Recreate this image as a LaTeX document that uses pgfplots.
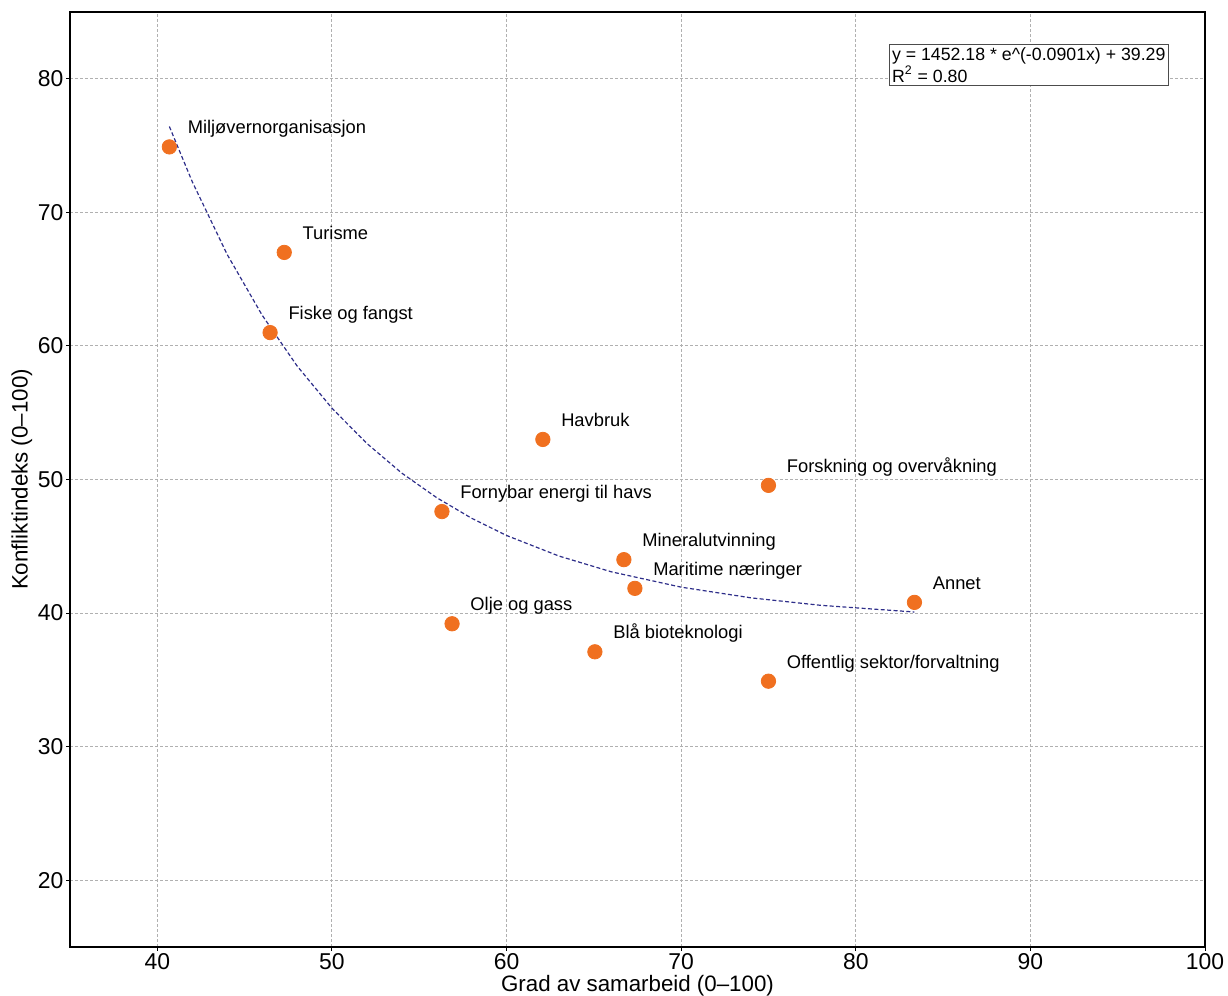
\documentclass[border=0pt]{standalone}
\usepackage{pgfplots}
\pgfplotsset{compat=1.18}
\usepackage{fontspec}
\setmainfont{Liberation Sans}
\definecolor{dotorange}{HTML}{F07020}
\definecolor{fitnavy}{HTML}{2E2E8A}
\definecolor{gridgray}{HTML}{B0B0B0}
\begin{document}
\begin{tikzpicture}
  \useasboundingbox (-35bp,-24.5bp) rectangle (579bp,473.5bp);
  \begin{axis}[
      at={(0,0)}, anchor=origin,
      scale only axis,
      width=567.5bp, height=467.5bp,
      xmin=35, xmax=100, ymin=15, ymax=85,
      xtick={40,50,...,100}, ytick={20,30,...,80},
      tick pos=left,
      tick align=outside,
      major tick length=1.8bp,
      tick style={line width=0.5bp, black},
      grid=major,
      grid style={gridgray, line width=0.5bp, dash pattern=on 1.5bp off 1bp},
      axis line style={line width=0.6bp},
      tick label style={font=\fontsize{11.5}{13}\selectfont},
      /pgf/number format/assume math mode=true,
      xticklabel style={inner sep=0.5bp, yshift=-0.5bp},
      yticklabel style={xshift=2bp},
      xlabel={Grad av samarbeid (0–100)},
      ylabel={Konfliktindeks (0–100)},
      label style={font=\fontsize{11.2}{12}\selectfont},
      xlabel style={inner sep=0.5bp, yshift=-2bp},
      ylabel style={yshift=-4bp},
      clip=false,
    ]
    % fitted curve, values
    \addplot [color=fitnavy, line width=0.6bp, dash pattern=on 2bp off 1.2bp] coordinates {
      (40.69,76.43)(42,72.30)(44,66.85)(46,62.31)(48,58.51)(50,55.34)
      (52,52.70)(54,50.48)(56,48.64)(58,47.10)(60,45.81)(63,44.27)
      (66,43.09)(70,41.94)(74,41.14)(78,40.58)(83.36,40.08)};
    \addplot [only marks, mark=*, mark size=3.6bp, color=dotorange,
      point meta=explicit symbolic,
      nodes near coords,
      nodes near coords style={anchor=base west, inner sep=0pt, xshift=9bp, yshift=6.5bp,
        text=black, font=\fontsize{9.2}{10}\selectfont}]
      table [meta=label, row sep=\\, col sep=comma] {
        x,y,label\\
        40.69,74.9,Miljøvernorganisasjon\\
        47.27,67.0,Turisme\\
        46.46,61.0,Fiske og fangst\\
        62.08,53.0,Havbruk\\
        75.0,49.56,Forskning og overvåkning\\
        56.3,47.6,Fornybar energi til havs\\
        66.72,44.0,Mineralutvinning\\
        67.35,41.85,Maritime næringer\\
        83.36,40.8,Annet\\
        56.88,39.2,Olje og gass\\
        65.06,37.1,Blå bioteknologi\\
        75.0,34.9,Offentlig sektor/forvaltning\\
      };
    \node [draw=black!70, line width=0.4bp, fill=white, anchor=north west, inner sep=1.5bp,
      align=left, font=\fontsize{8.9}{9.3}\selectfont]
      at (axis cs:81.88,82.6) {y = 1452.18 * e\^{}(-0.0901x) + 39.29\\R\textsuperscript{2} = 0.80};
  \end{axis}
\end{tikzpicture}
\end{document}
